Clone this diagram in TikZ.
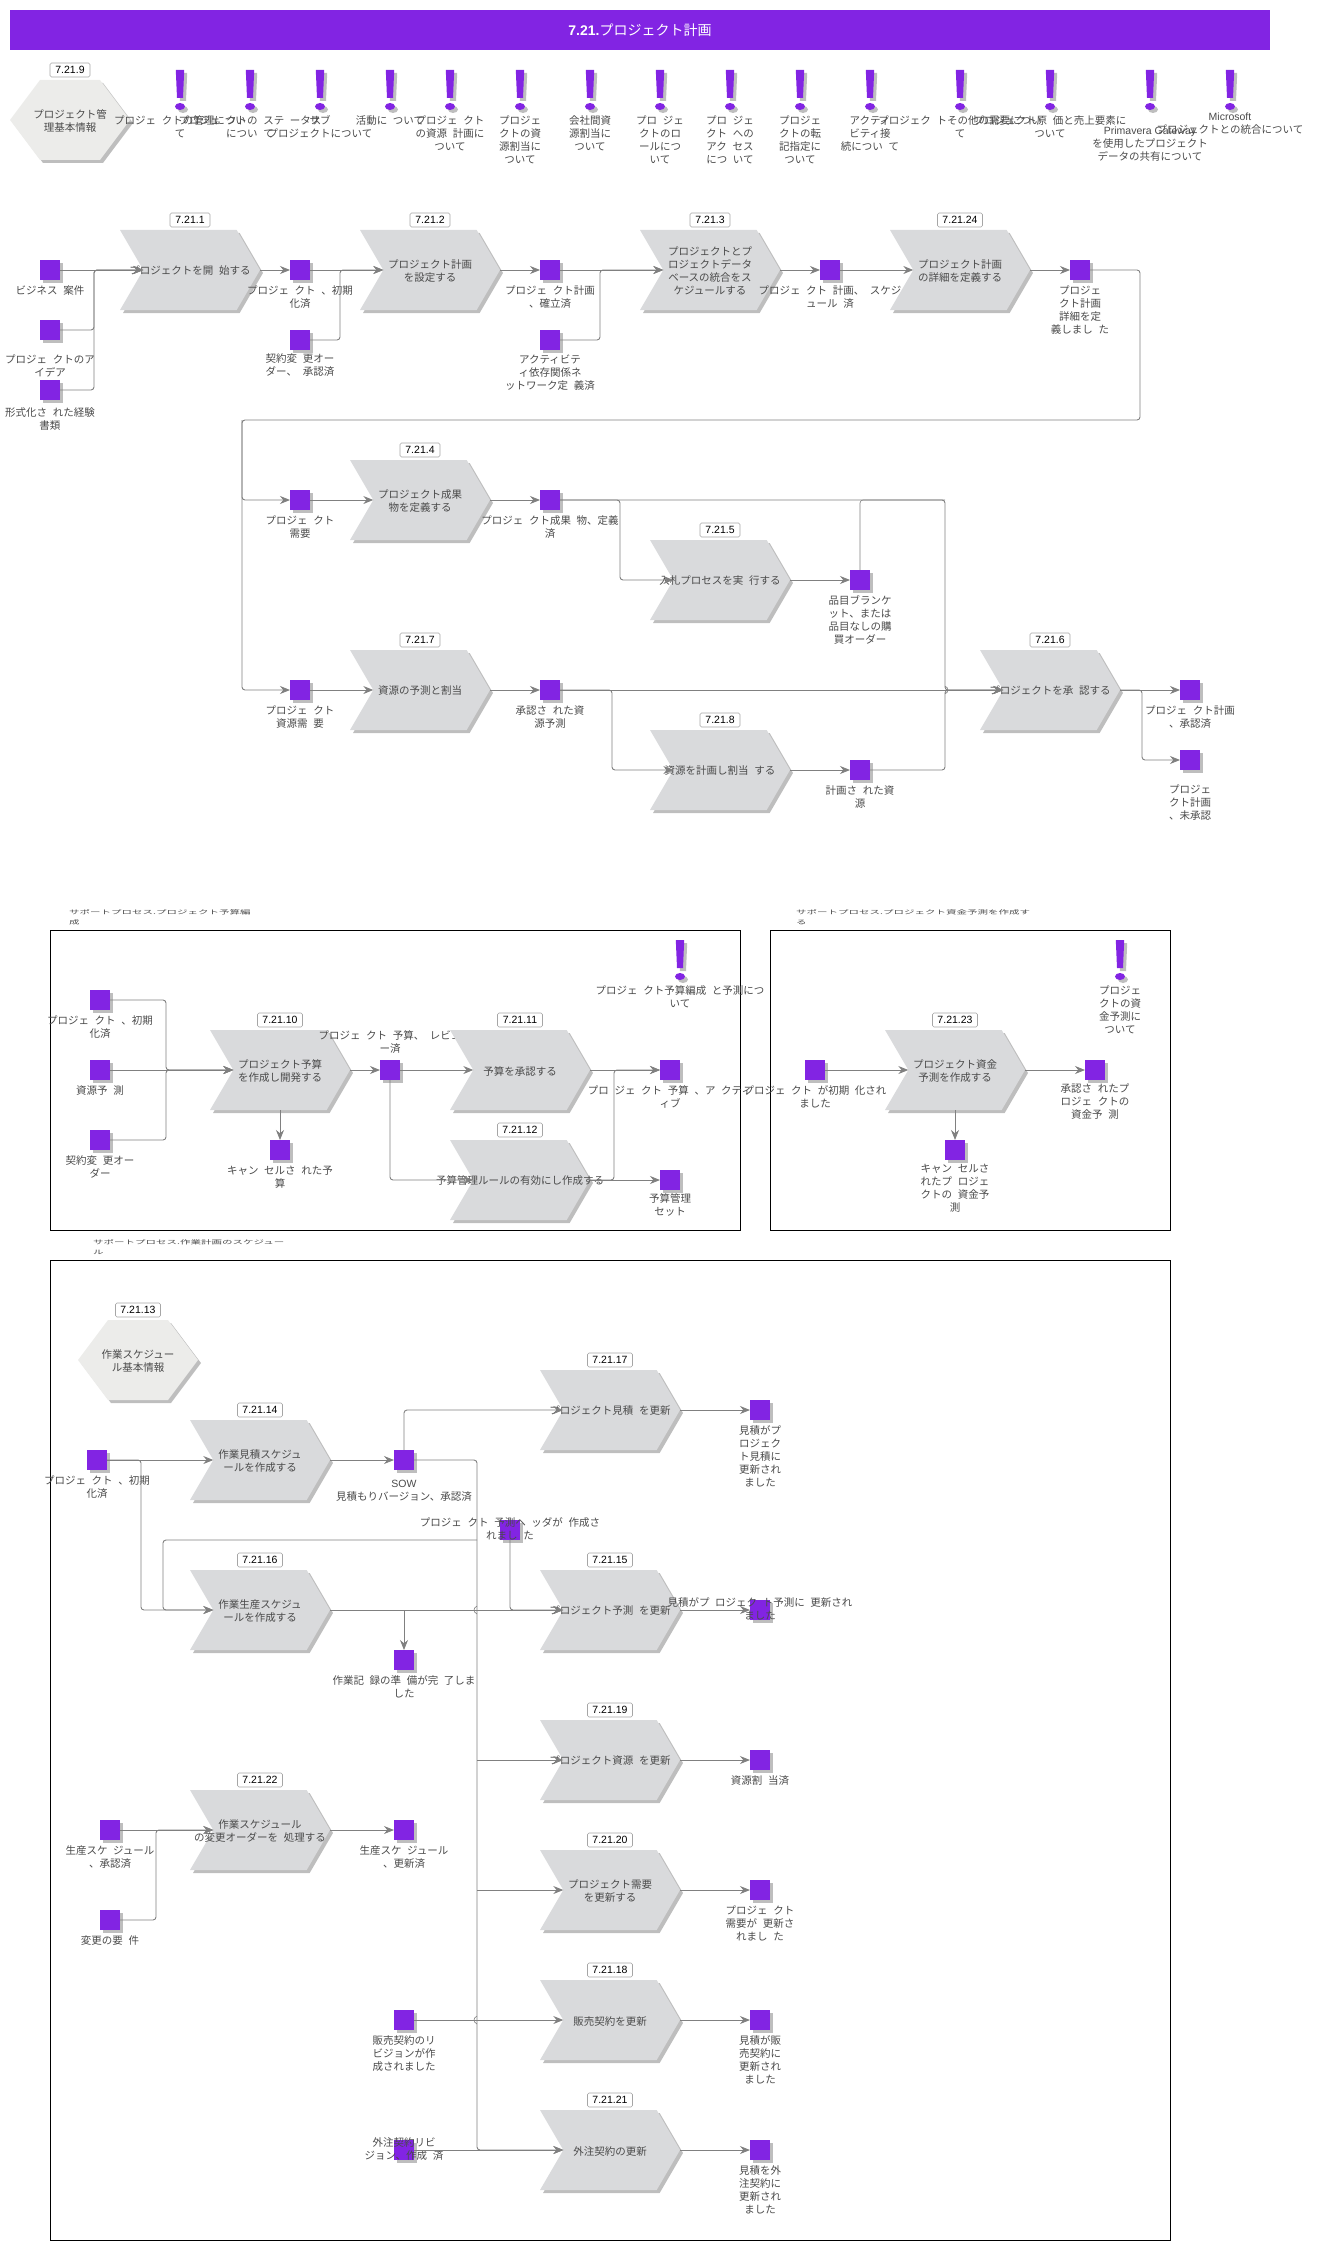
\documentclass[tikz,border=0pt]{standalone}
\usepackage{fontspec}
\setmainfont[WordSpace=2.4]{Noto Sans CJK JP}
\newfontfamily\latinfont{Liberation Sans}
\usepackage{tikz}
\usetikzlibrary{calc,arrows.meta,shapes.symbols,shadows}

\definecolor{eventpurple}{HTML}{8224E3}
\definecolor{stepgray}{HTML}{D9DADC}
\definecolor{hexgray}{HTML}{ECECEA}
\definecolor{shadowgray}{HTML}{BEBEBE}
\definecolor{wiregray}{HTML}{808080}
\definecolor{textgray}{HTML}{4A4A4A}

\newcommand{\squash}[1]{\scalebox{1}[.55]{#1}}

\tikzset{
  warnmark/.pic={
    \fill[shadowgray] (-1.2,-37) -- (7.2,-37) -- (6,-9) -- (0,-9) -- cycle;
    \fill[shadowgray] (3,-0.5) ellipse (5 and 3.5);
    \fill[eventpurple] (-4.2,-40) -- (4.2,-40) -- (3,-12) -- (-3,-12) -- cycle;
    \fill[eventpurple] (0,-3.5) ellipse (5 and 3.5);
  }
}

\begin{document}
\begin{tikzpicture}[x=1pt, y=-1pt, >={Stealth[length=10pt,width=8pt]},
  event/.style={fill=eventpurple, minimum width=20pt, minimum height=20pt, inner sep=0pt, outer sep=0pt,
    drop shadow={shadow xshift=3pt, shadow yshift=-3pt, fill=shadowgray, opacity=1}},
  procstep/.style={shape=signal, signal to=east, signal from=west, signal pointer angle=119.5,
    fill=stepgray, minimum width=140pt, minimum height=80pt, inner sep=0pt, outer sep=0pt,
    drop shadow={shadow xshift=3pt, shadow yshift=-3pt, fill=shadowgray, opacity=1}},
  basehex/.style={shape=signal, signal to=east and west, signal pointer angle=106.26,
    fill=hexgray, minimum width=120pt, minimum height=80pt, inner sep=0pt, outer sep=0pt,
    drop shadow={shadow xshift=3pt, shadow yshift=-3pt, fill=shadowgray, opacity=1}},
  steptext/.style={font=\fontsize{10.5}{13}\selectfont, text=textgray, align=center, inner sep=0pt, yshift=-1pt},
  evlabel/.style={font=\fontsize{10.5}{13}\selectfont, text=textgray, align=center, anchor=north, inner sep=0pt,
    yshift=-5.5pt, execute at begin node=\strut},
  numtag/.style={draw=gray!70, fill=white, rounded corners=1.5pt, line width=.6pt, minimum height=14pt, inner sep=1pt,
    minimum width=40pt, font=\fontsize{10.5}{12}\latinfont, node distance=50pt},
  numtagw/.style={numtag, minimum width=45pt},
  wire/.style={draw=wiregray, line width=.9pt, rounded corners=3pt, ->},
  wireplain/.style={draw=wiregray, line width=.9pt, rounded corners=3pt},
  frame/.style={draw=black, line width=1pt},
  frametitle/.style={font=\fontsize{10.5}{10.5}\selectfont, text=textgray, align=left, anchor=north west, inner sep=0pt}]

  \useasboundingbox (0,0) rectangle (1320,2250);

  % Header
  \node[fill=eventpurple, text=white, minimum width=1260pt, minimum height=40pt, inner sep=0pt, font=\fontsize{14}{16}\selectfont] (H0) at (640,30)
    {{\latinfont\bfseries 7.21.}プロジェクト計画};

  % Frames
  \node[frame, minimum width=690pt, minimum height=300pt] (F1) at (395.5,1080.5) {};
  \node[frame, minimum width=400pt, minimum height=300pt] (F2) at (970.5,1080.5) {};
  \node[frame, minimum width=1120pt, minimum height=980pt] (F3) at (610.5,1750.5) {};
  \node[frametitle] (F1t) at (69,909) {\squash{サポートプロセス.プロジェクト予算編}\\\squash{成}};
  \node[frametitle] (F2t) at (796,909) {\squash{サポートプロセス.プロジェクト資金予測を作成す}\\\squash{る}};
  \node[frametitle] (F3t) at (93,1239) {\squash{サポートプロセス.作業計画のスケジュー}\\\squash{ル}};

  % Base information row
  \node[basehex] (H1) at (70,120) {};
  \node[steptext] (H1t) at (H1) {プロジェクト管\\理基本情報};
  \node[numtag] (T9) at (70,70) {7.21.9};

  \coordinate (M1) at (180,110);
  \coordinate (M2) at (250,110);
  \coordinate (M3) at (320,110);
  \coordinate (M4) at (390,110);
  \coordinate (M5) at (450,110);
  \coordinate (M6) at (520,110);
  \coordinate (M7) at (590,110);
  \coordinate (M8) at (660,110);
  \coordinate (M9) at (730,110);
  \coordinate (M10) at (800,110);
  \coordinate (M11) at (870,110);
  \coordinate (M12) at (960,110);
  \coordinate (M13) at (1050,110);
  \coordinate (M14) at (1150,110);
  \coordinate (M15) at (1230,110);
  \pic at (M1) {warnmark};
  \pic at (M2) {warnmark};
  \pic at (M3) {warnmark};
  \pic at (M4) {warnmark};
  \pic at (M5) {warnmark};
  \pic at (M6) {warnmark};
  \pic at (M7) {warnmark};
  \pic at (M8) {warnmark};
  \pic at (M9) {warnmark};
  \pic at (M10) {warnmark};
  \pic at (M11) {warnmark};
  \pic at (M12) {warnmark};
  \pic at (M13) {warnmark};
  \pic at (M14) {warnmark};
  \pic at (M15) {warnmark};
  \node[evlabel] (M1l) at (M1) {プロジェ クトの管理につい\\て};
  \node[evlabel] (M2l) at (M2) {プロジェ クトの ステ ータス\\につい て};
  \node[evlabel] (M3l) at (M3) {サブ\\プロジェクトについて};
  \node[evlabel] (M4l) at (M4) {活動に ついて};
  \node[evlabel] (M5l) at (M5) {プロジェ クト\\の資源 計画に\\ついて};
  \node[evlabel] (M6l) at (M6) {プロジェ\\クトの資\\源割当に\\ついて};
  \node[evlabel] (M7l) at (M7) {会社間資\\源割当に\\ついて};
  \node[evlabel] (M8l) at (M8) {プロ ジェ\\クトのロ\\ールにつ\\いて};
  \node[evlabel] (M9l) at (M9) {プロ ジェ\\クト への\\アク セス\\につ いて};
  \node[evlabel] (M10l) at (M10) {プロジェ\\クトの転\\記指定に\\ついて};
  \node[evlabel] (M11l) at (M11) {アクティ\\ビティ接\\続につい て};
  \node[evlabel] (M12l) at (M12) {プロジェク トその他の需要につい\\て};
  \node[evlabel] (M13l) at (M13) {プロジェクト原 価と売上要素に\\ついて};
  \node[evlabel, yshift=-11pt] (M14l) at (M14) {{\latinfont Primavera Gateway}\\を使用したプロジェクト\\データの共有について};
  \node[evlabel, yshift=3pt] (M15l) at (M15) {{\latinfont Microsoft}\\プロジェクトとの統合について};

  % First row
  \node[event] (A1) at (50,270) {};
  \node[evlabel] (A1l) at (A1.south) {ビジネス 案件};
  \node[event, node distance=60pt, below of=A1] (A2) {};
  \node[evlabel, yshift=-9pt] (A2l) at (A2.south) {プロジェ クトのア\\イデア};
  \node[event, node distance=60pt, below of=A2] (A3) {};
  \node[evlabel, yshift=-2pt] (A3l) at (A3.south) {形式化さ れた経験\\書類};

  \node[procstep] (P1) at (190,270) {};
  \node[steptext] (P1t) at (P1) {プロジェクトを開 始する};
  \node[numtag, above of=P1] (T1) {7.21.1};

  \node[event, node distance=110pt, right of=P1] (E1) {};
  \node[evlabel] (E1l) at (E1.south) {プロジェ クト 、初期\\化済};
  \node[event, node distance=70pt, below of=E1] (E1b) {};
  \node[evlabel, yshift=2pt] (E1bl) at (E1b.south) {契約変 更オー\\ダー、 承認済};

  \node[procstep, node distance=130pt, right of=E1] (P2) {};
  \node[steptext] (P2t) at (P2) {プロジェクト計画\\を設定する};
  \node[numtag, above of=P2] (T2) {7.21.2};

  \node[event, node distance=120pt, right of=P2] (E2) {};
  \node[evlabel] (E2l) at (E2.south) {プロジェ クト計画\\、確立済};
  \node[event, node distance=70pt, below of=E2] (E2b) {};
  \node[evlabel, yshift=1pt] (E2bl) at (E2b.south) {アクティビテ\\ィ依存関係ネ\\ットワーク定 義済};

  \node[procstep, node distance=160pt, right of=E2] (P3) {};
  \node[steptext] (P3t) at (P3) {プロジェクトとプ\\ロジェクトデータ\\ベースの統合をス\\ケジュールする};
  \node[numtag, above of=P3] (T3) {7.21.3};

  \node[event, node distance=120pt, right of=P3] (E3) {};
  \node[evlabel] (E3l) at (E3.south) {プロジェ クト 計画、 スケジ\\ュール 済};

  \node[procstep, node distance=130pt, right of=E3] (P24) {};
  \node[steptext] (P24t) at (P24) {プロジェクト計画\\の詳細を定義する};
  \node[numtagw, above of=P24] (T24) {7.21.24};

  \node[event, node distance=120pt, right of=P24] (E4) {};
  \node[evlabel] (E4l) at (E4.south) {プロジェ\\クト計画\\詳細を定\\義しまし た};

  % Second row
  \node[event] (E5) at (300,500) {};
  \node[evlabel] (E5l) at (E5.south) {プロジェ クト\\需要};
  \node[procstep, node distance=120pt, right of=E5] (P4) {};
  \node[steptext] (P4t) at (P4) {プロジェクト成果\\物を定義する};
  \node[numtag, above of=P4] (T4) {7.21.4};
  \node[event, node distance=130pt, right of=P4] (E6) {};
  \node[evlabel] (E6l) at (E6.south) {プロジェ クト成果 物、定義\\済};

  \node[procstep] (P5) at (720,580) {};
  \node[steptext] (P5t) at (P5) {入札プロセスを実 行する};
  \node[numtag, above of=P5] (T5) {7.21.5};
  \node[event, node distance=140pt, right of=P5] (E7) {};
  \node[evlabel] (E7l) at (E7.south) {品目ブランケ\\ット、または\\品目なしの購\\買オーダー};

  % Third row
  \node[event] (E8) at (300,690) {};
  \node[evlabel] (E8l) at (E8.south) {プロジェ クト\\資源需 要};
  \node[procstep, node distance=120pt, right of=E8] (P7) {};
  \node[steptext] (P7t) at (P7) {資源の予測と割当};
  \node[numtag, above of=P7] (T7) {7.21.7};
  \node[event, node distance=130pt, right of=P7] (E9) {};
  \node[evlabel] (E9l) at (E9.south) {承認さ れた資\\源予測};

  \node[procstep] (P8) at (720,770) {};
  \node[steptext] (P8t) at (P8) {資源を計画し割当 する};
  \node[numtag, above of=P8] (T8) {7.21.8};
  \node[event, node distance=140pt, right of=P8] (E10) {};
  \node[evlabel] (E10l) at (E10.south) {計画さ れた資\\源};

  \node[procstep] (P6) at (1050,690) {};
  \node[steptext] (P6t) at (P6) {プロジェクトを承 認する};
  \node[numtag, above of=P6] (T6) {7.21.6};
  \node[event, node distance=140pt, right of=P6] (E11) {};
  \node[evlabel] (E11l) at (E11.south) {プロジェ クト計画\\、承認済};
  \node[event, node distance=70pt, below of=E11] (E12) {};
  \node[evlabel, yshift=-9pt] (E12l) at (E12.south) {プロジェ\\クト計画\\、未承認};

  % Budget frame
  \node[event] (E13) at (100,1000) {};
  \node[evlabel] (E13l) at (E13.south) {プロジェ クト 、初期\\化済};
  \node[event, node distance=70pt, below of=E13] (E14) {};
  \node[evlabel] (E14l) at (E14.south) {資源予 測};
  \node[event, node distance=70pt, below of=E14] (E15) {};
  \node[evlabel] (E15l) at (E15.south) {契約変 更オー\\ダー};

  \node[procstep] (P10) at (280,1070) {};
  \node[steptext] (P10t) at (P10) {プロジェクト予算\\を作成し開発する};
  \node[numtagw, above of=P10] (T10) {7.21.10};
  \node[event, node distance=80pt, below of=P10] (E16) {};
  \node[evlabel] (E16l) at (E16.south) {キャン セルさ れた予\\算};

  \node[event, node distance=110pt, right of=P10] (E17) {};
  \node[evlabel, yshift=55pt] (E17l) at (E17.south) {プロジェ クト 予算、 レビュ\\ー済};

  \node[procstep, node distance=130pt, right of=E17] (P11) {};
  \node[steptext] (P11t) at (P11) {予算を承認する};
  \node[numtagw, above of=P11] (T11) {7.21.11};
  \node[procstep, node distance=110pt, below of=P11] (P12) {};
  \node[steptext] (P12t) at (P12) {予算管理ルールの有効にし作成する};
  \node[numtagw, above of=P12] (T12) {7.21.12};

  \node[event, node distance=150pt, right of=P11] (E18) {};
  \node[evlabel] (E18l) at (E18.south) {プロ ジェ クト 予算 、ア クティ\\ィブ};
  \node[event, node distance=150pt, right of=P12] (E19) {};
  \node[evlabel, yshift=2pt] (E19l) at (E19.south) {予算管理\\セット};

  \coordinate (M16) at (680,980);
  \pic at (M16) {warnmark};
  \node[evlabel] (M16l) at (M16) {プロジェ クト予算編成 と予測につ\\いて};

  % Funding frame
  \node[event] (E20) at (815,1070) {};
  \node[evlabel] (E20l) at (E20.south) {プロジェ クト が初期 化され\\ました};
  \node[procstep, node distance=140pt, right of=E20] (P23) {};
  \node[steptext] (P23t) at (P23) {プロジェクト資金\\予測を作成する};
  \node[numtagw, above of=P23] (T23) {7.21.23};
  \node[event, node distance=80pt, below of=P23] (E21) {};
  \node[evlabel, yshift=2pt] (E21l) at (E21.south) {キャン セルさ\\れたプ ロジェ\\クトの 資金予\\測};
  \node[event, node distance=140pt, right of=P23] (E22) {};
  \node[evlabel, yshift=2pt] (E22l) at (E22.south) {承認さ れたプ\\ロジェ クトの\\資金予 測};
  \coordinate (M17) at (1120,980);
  \pic at (M17) {warnmark};
  \node[evlabel] (M17l) at (M17) {プロジェ\\クトの資\\金予測に\\ついて};

  % Work schedule frame
  \node[basehex] (H2) at (138,1360) {};
  \node[steptext] (H2t) at (H2) {作業スケジュー\\ル基本情報};
  \node[numtagw] (T13) at (138,1310) {7.21.13};

  \node[event] (E23) at (97,1460) {};
  \node[evlabel] (E23l) at (E23.south) {プロジェ クト 、初期\\化済};
  \node[procstep] (P14) at (260,1460) {};
  \node[steptext] (P14t) at (P14) {作業見積スケジュ\\ールを作成する};
  \node[numtagw, above of=P14] (T14) {7.21.14};
  \node[event, node distance=144pt, right of=P14] (E24) {};
  \node[evlabel, yshift=-4pt] (E24l) at (E24.south) {{\latinfont SOW}\\見積もりバージョン、承認済};

  \node[procstep] (P17) at (610,1410) {};
  \node[steptext] (P17t) at (P17) {プロジェクト見積 を更新};
  \node[numtagw, above of=P17] (T17) {7.21.17};
  \node[event, node distance=150pt, right of=P17] (E25) {};
  \node[evlabel] (E25l) at (E25.south) {見積がプ\\ロジェク\\ト見積に\\更新され\\ました};

  \node[procstep] (P16) at (260,1610) {};
  \node[steptext] (P16t) at (P16) {作業生産スケジュ\\ールを作成する};
  \node[numtagw, above of=P16] (T16) {7.21.16};
  \node[event] (E26) at (510,1530) {};
  \node[evlabel, yshift=28pt] (E26l) at (E26.south) {プロジェ クト 予測ヘ ッダが 作成さ\\れまし た};
  \node[event] (E28) at (404,1660) {};
  \node[evlabel] (E28l) at (E28.south) {作業記 録の準 備が完 了しま\\した};

  \node[procstep] (P15) at (610,1610) {};
  \node[steptext] (P15t) at (P15) {プロジェクト予測 を更新};
  \node[numtagw, above of=P15] (T15) {7.21.15};
  \node[event, node distance=150pt, right of=P15] (E27) {};
  \node[evlabel, yshift=28pt] (E27l) at (E27.south) {見積がプ ロジェク ト予測に 更新され\\ました};

  \node[procstep] (P19) at (610,1760) {};
  \node[steptext] (P19t) at (P19) {プロジェクト資源 を更新};
  \node[numtagw, above of=P19] (T19) {7.21.19};
  \node[event, node distance=150pt, right of=P19] (E29) {};
  \node[evlabel] (E29l) at (E29.south) {資源割 当済};

  \node[procstep] (P22) at (260,1830) {};
  \node[steptext] (P22t) at (P22) {作業スケジュール\\の変更オーダーを 処理する};
  \node[numtagw, above of=P22] (T22) {7.21.22};
  \node[event, node distance=150pt, left of=P22] (E35) {};
  \node[evlabel] (E35l) at (E35.south) {生産スケ ジュール\\、承認済};
  \node[event, node distance=90pt, below of=E35] (E36) {};
  \node[evlabel] (E36l) at (E36.south) {変更の要 件};
  \node[event, node distance=144pt, right of=P22] (E37) {};
  \node[evlabel] (E37l) at (E37.south) {生産スケ ジュール\\、更新済};

  \node[procstep] (P20) at (610,1890) {};
  \node[steptext] (P20t) at (P20) {プロジェクト需要\\を更新する};
  \node[numtagw, above of=P20] (T20) {7.21.20};
  \node[event, node distance=150pt, right of=P20] (E30) {};
  \node[evlabel] (E30l) at (E30.south) {プロジェ クト\\需要が 更新さ\\れまし た};

  \node[event] (E31) at (404,2020) {};
  \node[evlabel] (E31l) at (E31.south) {販売契約のリ\\ビジョンが作\\成されました};
  \node[procstep] (P18) at (610,2020) {};
  \node[steptext] (P18t) at (P18) {販売契約を更新};
  \node[numtagw, above of=P18] (T18) {7.21.18};
  \node[event, node distance=150pt, right of=P18] (E32) {};
  \node[evlabel] (E32l) at (E32.south) {見積が販\\売契約に\\更新され\\ました};

  \node[event] (E33) at (404,2150) {};
  \node[evlabel, yshift=28pt] (E33l) at (E33.south) {外注契約リビ\\ジョン、作成 済};
  \node[procstep] (P21) at (610,2150) {};
  \node[steptext] (P21t) at (P21) {外注契約の更新};
  \node[numtagw, above of=P21] (T21) {7.21.21};
  \node[event, node distance=150pt, right of=P21] (E34) {};
  \node[evlabel] (E34l) at (E34.south) {見積を外\\注契約に\\更新され\\ました};

  % Junctions
  \coordinate (J1) at (94,270);
  \coordinate (J2) at (340,270);
  \coordinate (J3) at (600,270);
  \coordinate (J4) at (1140,420);
  \coordinate (J5) at (242,420);
  \coordinate (J6) at (945,500);
  \coordinate (J7) at (945,690);
  \coordinate (J9) at (620,500);
  \coordinate (J10) at (612,690);
  \coordinate (J11) at (1142,690);
  \coordinate (J12) at (166,1070);
  \coordinate (J13) at (614,1070);
  \coordinate (J14) at (141,1460);
  \coordinate (J15) at (477,1460);
  \coordinate (J16) at (477,2150);
  \coordinate (J17) at (477,1540);
  \coordinate (J18) at (163,1540);
  \coordinate (J19) at (477,1760);
  \coordinate (J20) at (477,1890);
  \coordinate (J21) at (404,1610);
  \coordinate (J22) at (156,1830);
  \coordinate (J23) at (477,1610);
  \coordinate (J24) at (477,2020);

  % First row arrows
  \draw[wire] (A1.east) -- (P1.west);
  \draw[wire] (A2.east) -| (J1) -- (P1.west);
  \draw[wire] (A3.east) -| (J1) -- (P1.west);
  \draw[wire] (P1.east) -- (E1.west);
  \draw[wire] (E1.east) -- (P2.west);
  \draw[wire] (E1b.east) -| (J2) -- (P2.west);
  \draw[wire] (P2.east) -- (E2.west);
  \draw[wire] (E2.east) -- (P3.west);
  \draw[wire] (E2b.east) -| (J3) -- (P3.west);
  \draw[wire] (P3.east) -- (E3.west);
  \draw[wire] (E3.east) -- (P24.west);
  \draw[wire] (P24.east) -- (E4.west);

  % Feedback line
  \draw[wire] (E4.east) -| (J4) -- (J5) |- (E5.west);
  \draw[wire] (J5) |- (E8.west);

  % Second and third row arrows
  \draw[wire] (E5.east) -- (P4.west);
  \draw[wire] (P4.east) -- (E6.west);
  \draw[wire] (E6.east) -- (J6) -- (J7) -- (P6.west);
  \draw[wire] (E6.east) -- (J9) |- (P5.west);
  \draw[wire] (P5.east) -- (E7.west);
  \draw[wireplain, line width=.6pt] (E7.north) |- (J6);
  \draw[wire] (E8.east) -- (P7.west);
  \draw[wire] (P7.east) -- (E9.west);
  \draw[wire] (E9.east) -- (P6.west);
  \draw[wire] (E9.east) -- (J10) |- (P8.west);
  \draw[wire] (P8.east) -- (E10.west);
  \draw[wire] (E10.east) -| (J7) -- (P6.west);
  \draw[wire] (P6.east) -- (E11.west);
  \draw[wire] (P6.east) -- (J11) |- (E12.west);

  % Budget arrows
  \draw[wire] (E13.east) -| (J12) -- (P10.west);
  \draw[wire] (E14.east) -- (P10.west);
  \draw[wire] (E15.east) -| (J12) -- (P10.west);
  \draw[wire] (P10.south) -- (E16.north);
  \draw[wire] (P10.east) -- (E17.west);
  \draw[wire] (E17.east) -- (P11.west);
  \draw[wire] (E17.south) |- (P12.west);
  \draw[wire] (P11.east) -- (E18.west);
  \draw[wire] (P12.east) -- (E19.west);
  \draw[wire] (P12.east) -| (J13) -- (E18.west);

  % Funding arrows
  \draw[wire] (E20.east) -- (P23.west);
  \draw[wire] (P23.east) -- (E22.west);
  \draw[wire] (P23.south) -- (E21.north);

  % Schedule arrows
  \draw[wire] (E23.east) -- (P14.west);
  \draw[wire] (E23.east) -- (J14) |- (P16.west);
  \draw[wire] (P14.east) -- (E24.west);
  \draw[wire] (E24.north) |- (P17.west);
  \draw[wire] (P17.east) -- (E25.west);
  \draw[wire] (E24.east) -- (J15) -- (J16) -- (P21.west);
  \draw[wire] (J17) -- (J18) |- (P16.west);
  \draw[wire] (J19) -- (P19.west);
  \draw[wire] (J20) -- (P20.west);
  \draw[wire] (P16.east) -- (P15.west);
  \draw[wire] (J21) -- (E28.north);
  \draw[wire] (E26.south) |- (P15.west);
  \draw[wire] (P15.east) -- (E27.west);
  \draw[wire] (P19.east) -- (E29.west);
  \draw[wire] (P20.east) -- (E30.west);
  \draw[wire] (E31.east) -- (P18.west);
  \draw[wire] (P18.east) -- (E32.west);
  \draw[wire] (E33.east) -- (P21.west);
  \draw[wire] (P21.east) -- (E34.west);
  \draw[wire] (E35.east) -- (P22.west);
  \draw[wire] (E36.east) -| (J22) -- (P22.west);
  \draw[wire] (P22.east) -- (E37.west);

  % Line crossings
  \draw[wireplain, line width=.6pt] ($(J23)+(0,-4)$) .. controls ($(J23)+(-4,-2)$) and ($(J23)+(-4,2)$) .. ($(J23)+(0,4)$);
  \draw[wireplain, line width=.6pt] ($(J24)+(0,-4)$) .. controls ($(J24)+(-4,-2)$) and ($(J24)+(-4,2)$) .. ($(J24)+(0,4)$);
  \draw[wireplain, line width=.6pt] ($(J7)+(0,-4)$) .. controls ($(J7)+(4,-2)$) and ($(J7)+(4,2)$) .. ($(J7)+(0,4)$);

\end{tikzpicture}
\end{document}
